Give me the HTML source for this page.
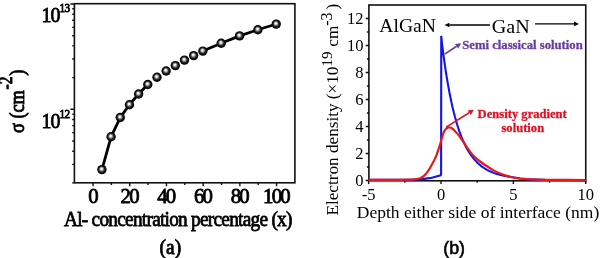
<!DOCTYPE html>
<html><head><meta charset="utf-8"><style>
html,body{margin:0;padding:0;background:#fff;width:602px;height:258px;overflow:hidden}
svg{display:block}
</style></head><body>
<svg width="602" height="258" viewBox="0 0 602 258">
<defs><radialGradient id="ball" cx="0.5" cy="0.5" r="0.5" fx="0.44" fy="0.4">
<stop offset="0" stop-color="#fff"/><stop offset="0.16" stop-color="#f0f0f0"/><stop offset="0.36" stop-color="#9a9a9a"/><stop offset="0.58" stop-color="#2e2e2e"/><stop offset="0.8" stop-color="#0a0a0a"/><stop offset="1" stop-color="#000"/>
</radialGradient></defs>
<rect width="602" height="258" fill="#fff"/>
<rect x="74.4" y="3.7" width="220.50" height="179.10" fill="none" stroke="#111" stroke-width="1.6"/>
<path d="M93.05,182.8v3.5 M111.40,182.8v2.2 M129.75,182.8v3.5 M148.10,182.8v2.2 M166.45,182.8v3.5 M184.80,182.8v2.2 M203.15,182.8v3.5 M221.50,182.8v2.2 M239.85,182.8v3.5 M258.20,182.8v2.2 M276.55,182.8v3.5 M74.4,182.90h-2.2 M74.4,164.36h-2.2 M74.4,151.20h-2.2 M74.4,141.00h-2.2 M74.4,132.66h-2.2 M74.4,125.61h-2.2 M74.4,119.50h-2.2 M74.4,114.12h-2.2 M74.4,109.30h-4.0 M74.4,77.60h-2.2 M74.4,59.06h-2.2 M74.4,45.90h-2.2 M74.4,35.70h-2.2 M74.4,27.36h-2.2 M74.4,20.31h-2.2 M74.4,14.20h-2.2 M74.4,8.82h-2.2 M74.4,4.00h-4.0" stroke="#111" stroke-width="1.4" fill="none"/>
<path d="M102.79,166.52L110.24,139.88M112.47,133.91L118.90,120.39M122.14,114.90L127.59,107.30M131.53,102.27L136.54,96.43M140.85,91.70L145.58,86.80M205.79,49.83L218.26,44.47M224.17,42.02L236.58,37.08M242.58,34.88L254.87,30.72M260.96,28.77L273.19,25.03" fill="none" stroke="#000" stroke-width="2.8"/>
<circle cx="101.92" cy="169.60" r="4.7" fill="url(#ball)"/>
<circle cx="111.10" cy="136.80" r="4.7" fill="url(#ball)"/>
<circle cx="120.27" cy="117.50" r="4.7" fill="url(#ball)"/>
<circle cx="129.45" cy="104.70" r="4.7" fill="url(#ball)"/>
<circle cx="138.62" cy="94.00" r="4.7" fill="url(#ball)"/>
<circle cx="147.80" cy="84.50" r="4.7" fill="url(#ball)"/>
<circle cx="156.97" cy="77.20" r="4.7" fill="url(#ball)"/>
<circle cx="166.15" cy="71.00" r="4.7" fill="url(#ball)"/>
<circle cx="175.32" cy="65.60" r="4.7" fill="url(#ball)"/>
<circle cx="184.50" cy="60.10" r="4.7" fill="url(#ball)"/>
<circle cx="193.67" cy="55.60" r="4.7" fill="url(#ball)"/>
<circle cx="202.85" cy="51.10" r="4.7" fill="url(#ball)"/>
<circle cx="221.20" cy="43.20" r="4.7" fill="url(#ball)"/>
<circle cx="239.55" cy="35.90" r="4.7" fill="url(#ball)"/>
<circle cx="257.90" cy="29.70" r="4.7" fill="url(#ball)"/>
<circle cx="276.25" cy="24.10" r="4.7" fill="url(#ball)"/>
<text transform="translate(93.35,202.80) scale(0.970,1)" font-family="'Liberation Serif','Times New Roman',serif" font-size="21.5" font-weight="normal" fill="#000" text-anchor="middle" stroke="#000" stroke-width="0.8" letter-spacing="0">0</text>
<text transform="translate(129.13,202.80) scale(0.970,1)" font-family="'Liberation Serif','Times New Roman',serif" font-size="21.5" font-weight="normal" fill="#000" text-anchor="middle" stroke="#000" stroke-width="0.8" letter-spacing="-1.9">20</text>
<text transform="translate(165.83,202.80) scale(0.970,1)" font-family="'Liberation Serif','Times New Roman',serif" font-size="21.5" font-weight="normal" fill="#000" text-anchor="middle" stroke="#000" stroke-width="0.8" letter-spacing="-1.9">40</text>
<text transform="translate(202.53,202.80) scale(0.970,1)" font-family="'Liberation Serif','Times New Roman',serif" font-size="21.5" font-weight="normal" fill="#000" text-anchor="middle" stroke="#000" stroke-width="0.8" letter-spacing="-1.9">60</text>
<text transform="translate(239.23,202.80) scale(0.970,1)" font-family="'Liberation Serif','Times New Roman',serif" font-size="21.5" font-weight="normal" fill="#000" text-anchor="middle" stroke="#000" stroke-width="0.8" letter-spacing="-1.9">80</text>
<text transform="translate(275.93,202.80) scale(0.970,1)" font-family="'Liberation Serif','Times New Roman',serif" font-size="21.5" font-weight="normal" fill="#000" text-anchor="middle" stroke="#000" stroke-width="0.8" letter-spacing="-1.9">100</text>
<text transform="translate(41.60,22.30) scale(0.930,1)" font-family="'Liberation Serif','Times New Roman',serif" font-size="21.5" font-weight="normal" fill="#000" text-anchor="start" stroke="#000" stroke-width="0.8" letter-spacing="-1.3">10</text>
<text transform="translate(59.60,12.10) scale(0.900,1)" font-family="'Liberation Serif','Times New Roman',serif" font-size="12.5" font-weight="normal" fill="#000" text-anchor="start" stroke="#000" stroke-width="0.8" letter-spacing="-0.8">13</text>
<text transform="translate(41.60,127.90) scale(0.930,1)" font-family="'Liberation Serif','Times New Roman',serif" font-size="21.5" font-weight="normal" fill="#000" text-anchor="start" stroke="#000" stroke-width="0.8" letter-spacing="-1.3">10</text>
<text transform="translate(59.60,117.50) scale(0.900,1)" font-family="'Liberation Serif','Times New Roman',serif" font-size="12.5" font-weight="normal" fill="#000" text-anchor="start" stroke="#000" stroke-width="0.8" letter-spacing="-0.8">12</text>
<text transform="translate(64.00,226.10) scale(0.910,1)" font-family="'Liberation Serif','Times New Roman',serif" font-size="21.2" font-weight="normal" fill="#000" text-anchor="start" stroke="#000" stroke-width="0.8" letter-spacing="-0.8">Al- concentration percentage (x)</text>
<text transform="translate(24.0,133.0) rotate(-90) scale(0.83,1)" font-family="'Liberation Serif','Times New Roman',serif" font-size="22" fill="#000" stroke="#000" stroke-width="0.9">σ (cm<tspan dx="1" dy="-12" font-size="18.5">-2</tspan><tspan dx="1" dy="12">)</tspan></text>
<text transform="translate(159.60,253.70) scale(0.970,1)" font-family="'Liberation Serif','Times New Roman',serif" font-size="20" font-weight="normal" fill="#000" text-anchor="start" stroke="#000" stroke-width="0.8">(a)</text>
<rect x="368.9" y="5.0" width="216.85" height="175.80" fill="none" stroke="#111" stroke-width="1.6"/>
<path d="M368.63,180.8v3.2 M404.82,180.8v2.0 M441.00,180.8v3.2 M477.18,180.8v2.0 M513.37,180.8v3.2 M549.55,180.8v2.0 M585.73,180.8v3.2 M368.9,180.50h-3.2 M368.9,167.00h-2.0 M368.9,153.50h-3.2 M368.9,140.00h-2.0 M368.9,126.50h-3.2 M368.9,113.00h-2.0 M368.9,99.50h-3.2 M368.9,86.00h-2.0 M368.9,72.50h-3.2 M368.9,59.00h-2.0 M368.9,45.50h-3.2 M368.9,32.00h-2.0 M368.9,18.50h-3.2" stroke="#111" stroke-width="1.4" fill="none"/>
<text transform="translate(363.50,186.30)" font-family="'Liberation Serif','Times New Roman',serif" font-size="16.5" font-weight="normal" fill="#000" text-anchor="end" >0</text>
<text transform="translate(363.50,159.30)" font-family="'Liberation Serif','Times New Roman',serif" font-size="16.5" font-weight="normal" fill="#000" text-anchor="end" >2</text>
<text transform="translate(363.50,132.30)" font-family="'Liberation Serif','Times New Roman',serif" font-size="16.5" font-weight="normal" fill="#000" text-anchor="end" >4</text>
<text transform="translate(363.50,105.30)" font-family="'Liberation Serif','Times New Roman',serif" font-size="16.5" font-weight="normal" fill="#000" text-anchor="end" >6</text>
<text transform="translate(363.50,78.30)" font-family="'Liberation Serif','Times New Roman',serif" font-size="16.5" font-weight="normal" fill="#000" text-anchor="end" >8</text>
<text transform="translate(363.50,51.30)" font-family="'Liberation Serif','Times New Roman',serif" font-size="16.5" font-weight="normal" fill="#000" text-anchor="end" >10</text>
<text transform="translate(363.50,24.30)" font-family="'Liberation Serif','Times New Roman',serif" font-size="16.5" font-weight="normal" fill="#000" text-anchor="end" >12</text>
<text transform="translate(368.63,199.60)" font-family="'Liberation Serif','Times New Roman',serif" font-size="16.5" font-weight="normal" fill="#000" text-anchor="middle" >-5</text>
<text transform="translate(441.00,199.60)" font-family="'Liberation Serif','Times New Roman',serif" font-size="16.5" font-weight="normal" fill="#000" text-anchor="middle" >0</text>
<text transform="translate(513.37,199.60)" font-family="'Liberation Serif','Times New Roman',serif" font-size="16.5" font-weight="normal" fill="#000" text-anchor="middle" >5</text>
<text transform="translate(585.73,199.60)" font-family="'Liberation Serif','Times New Roman',serif" font-size="16.5" font-weight="normal" fill="#000" text-anchor="middle" >10</text>
<text transform="translate(356.80,218.00)" font-family="'Liberation Serif','Times New Roman',serif" font-size="17.5" font-weight="normal" fill="#000" text-anchor="start" >Depth either side of interface (nm)</text>
<text transform="translate(337.6,215.6) rotate(-90)" font-family="'Liberation Serif','Times New Roman',serif" font-size="17.2" fill="#000">Electron density (×10<tspan dy="-5.5" font-size="15">19</tspan><tspan dy="5.5" dx="0.5"> cm</tspan><tspan dy="-5.5" font-size="16">-3</tspan><tspan dy="5.5" dx="3">)</tspan></text>
<path d="M368.60,179.90 C375.83,179.88 403.22,179.92 412.00,179.80 C420.78,179.68 418.72,179.43 421.30,179.20 C423.88,178.97 425.43,178.73 427.50,178.40 C429.57,178.07 431.77,177.65 433.70,177.20 C435.63,176.75 437.87,176.05 439.10,175.70 C440.33,175.35 440.77,175.20 441.10,175.10 L441.25,35.80 L442.00,43.61 L442.50,47.62 L443.00,51.52 L443.50,55.30 L444.00,58.97 L444.50,62.52 L445.00,65.97 L445.50,69.32 L446.00,72.57 L446.50,75.72 L447.00,78.78 L447.50,81.75 L448.00,84.62 L448.50,87.41 L449.00,90.12 L449.50,92.75 L450.00,95.30 L450.50,97.77 L451.61,103.02 L452.72,107.92 L453.84,112.50 L454.95,116.78 L456.06,120.79 L457.17,124.54 L458.29,128.04 L459.40,131.32 L460.51,134.38 L461.62,137.25 L462.73,139.93 L463.85,142.43 L464.96,144.78 L466.07,146.97 L467.18,149.02 L468.30,150.94 L469.41,152.74 L470.52,154.42 L471.63,155.99 L472.74,157.46 L473.86,158.84 L474.97,160.13 L476.08,161.33 L477.19,162.46 L478.31,163.52 L479.42,164.51 L480.53,165.43 L481.64,166.30 L482.76,167.11 L483.87,167.87 L484.98,168.58 L486.09,169.25 L487.20,169.88 L488.32,170.46 L489.43,171.01 L490.54,171.53 L491.65,172.01 L492.77,172.46 L493.88,172.88 L494.99,173.28 L496.10,173.66 L497.21,174.01 L498.33,174.33 L499.44,174.64 L500.55,174.93 L501.66,175.20 L502.78,175.46 L503.89,175.70 L505.00,175.92 L507.30,176.10 L513.00,177.30 L520.00,178.50 L530.00,179.40 L545.00,179.90 L585.70,180.10" fill="none" stroke="#1414e6" stroke-width="2.1" stroke-linejoin="bevel"/>
<path d="M368.60,179.90 C373.83,179.88 393.10,179.85 400.00,179.80 C406.90,179.75 407.22,179.70 410.00,179.60 C412.78,179.50 414.95,179.45 416.70,179.20 C418.45,178.95 419.35,178.60 420.50,178.10 C421.65,177.60 422.57,177.07 423.60,176.20 C424.63,175.33 425.67,174.23 426.70,172.90 C427.73,171.57 428.77,169.88 429.80,168.20 C430.83,166.52 432.10,164.27 432.90,162.80 C433.70,161.33 434.02,160.65 434.60,159.40 C435.18,158.15 435.77,156.93 436.40,155.30 C437.03,153.67 437.72,151.65 438.40,149.60 C439.08,147.55 439.85,145.17 440.50,143.00 C441.15,140.83 441.72,138.47 442.30,136.60 C442.88,134.73 443.38,133.12 444.00,131.80 C444.62,130.48 445.23,129.45 446.00,128.70 C446.77,127.95 447.77,127.45 448.60,127.30 C449.43,127.15 450.38,127.57 451.00,127.80 C451.62,128.03 451.70,128.22 452.30,128.70 C452.90,129.18 453.77,129.88 454.60,130.70 C455.43,131.52 456.42,132.57 457.30,133.60 C458.18,134.63 459.03,135.73 459.90,136.90 C460.77,138.07 461.62,139.33 462.50,140.60 C463.38,141.87 464.32,143.18 465.20,144.50 C466.08,145.82 466.93,147.22 467.80,148.50 C468.67,149.78 469.53,151.07 470.40,152.20 C471.27,153.33 472.03,154.27 473.00,155.30 C473.97,156.33 474.90,157.28 476.20,158.40 C477.50,159.52 479.33,160.90 480.80,162.00 C482.27,163.10 483.50,164.00 485.00,165.00 C486.50,166.00 488.03,166.93 489.80,168.00 C491.57,169.07 493.67,170.38 495.60,171.40 C497.53,172.42 499.45,173.32 501.40,174.10 C503.35,174.88 505.37,175.53 507.30,176.10 C509.23,176.67 511.07,177.10 513.00,177.50 C514.93,177.90 516.95,178.23 518.90,178.50 C520.85,178.77 522.18,178.92 524.70,179.10 C527.22,179.28 529.78,179.47 534.00,179.60 C538.22,179.73 541.38,179.83 550.00,179.90 C558.62,179.97 579.75,179.98 585.70,180.00" fill="none" stroke="#e81818" stroke-width="2.2"/>
<text transform="translate(379.30,31.80) scale(1.045,1)" font-family="'Liberation Serif','Times New Roman',serif" font-size="18.8" font-weight="normal" fill="#000" text-anchor="start" >AlGaN</text>
<text transform="translate(491.80,33.10) scale(1.070,1)" font-family="'Liberation Serif','Times New Roman',serif" font-size="18.8" font-weight="normal" fill="#000" text-anchor="start" >GaN</text>
<line x1="489.90" y1="25.00" x2="449.50" y2="25.00" stroke="#000" stroke-width="1.4"/><polygon points="444.50,25.00 449.50,22.70 449.50,27.30" fill="#000"/>
<line x1="535.00" y1="23.90" x2="574.00" y2="23.90" stroke="#000" stroke-width="1.4"/><polygon points="579.00,23.90 574.00,26.20 574.00,21.60" fill="#000"/>
<line x1="444.70" y1="54.20" x2="456.62" y2="46.25" stroke="#6a3ca0" stroke-width="1.6"/><polygon points="461.20,43.20 458.18,48.58 455.07,43.92" fill="#6a3ca0"/>
<text transform="translate(462.20,49.40)" font-family="'Liberation Serif','Times New Roman',serif" font-size="12.7" font-weight="bold" fill="#6a3ca0" text-anchor="start" stroke="#6a3ca0" stroke-width="0.3">Semi classical solution</text>
<line x1="446.10" y1="127.10" x2="469.23" y2="112.71" stroke="#dc1428" stroke-width="1.6"/><polygon points="473.90,109.80 470.71,115.08 467.75,110.33" fill="#dc1428"/>
<text transform="translate(522.20,117.50)" font-family="'Liberation Serif','Times New Roman',serif" font-size="12.6" font-weight="bold" fill="#dc1428" text-anchor="middle" stroke="#dc1428" stroke-width="0.3">Density gradient</text>
<text transform="translate(522.80,131.90)" font-family="'Liberation Serif','Times New Roman',serif" font-size="12.6" font-weight="bold" fill="#dc1428" text-anchor="middle" stroke="#dc1428" stroke-width="0.3">solution</text>
<text transform="translate(443.20,253.80) scale(0.970,1)" font-family="'Liberation Sans',Arial,sans-serif" font-size="18.4" font-weight="normal" fill="#000" text-anchor="start" stroke="#000" stroke-width="0.6">(b)</text>
</svg>
</body></html>
